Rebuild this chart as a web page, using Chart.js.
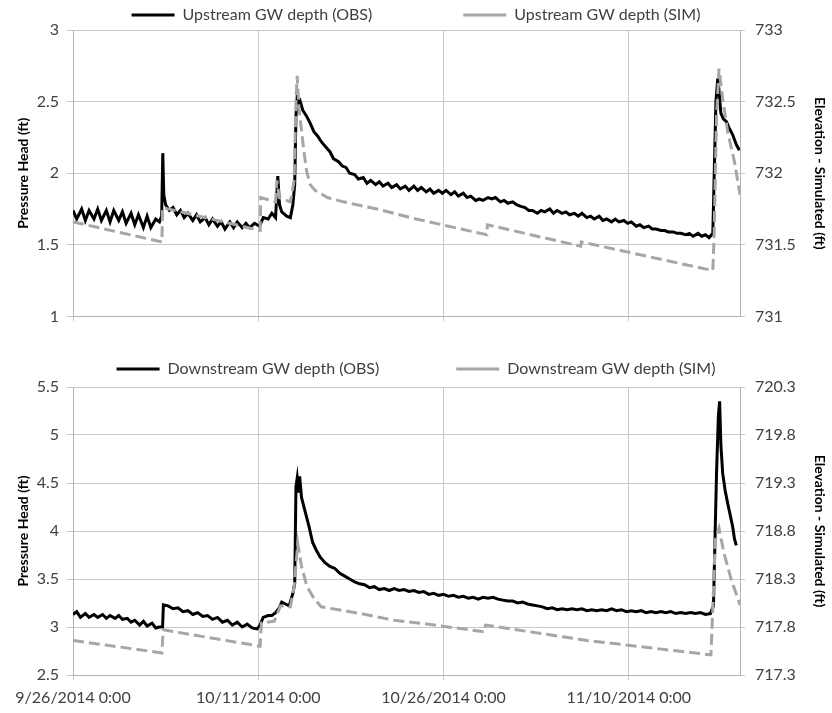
<!DOCTYPE html>
<html>
<head>
<meta charset="utf-8">
<title>GW depth</title>
<script src="https://cdn.jsdelivr.net/npm/chart.js@4.4.1/dist/chart.umd.min.js"></script>
<style>
  body { margin: 0; background: #fff; }
  canvas { display: block; }
</style>
</head>
<body>
<canvas id="upChart" width="832" height="336"></canvas>
<canvas id="downChart" width="832" height="377"></canvas>
<script>
// x values are days after 9/26/2014 0:00
const xTickDays = [0, 15, 30, 45];
const xTickLabels = ['9/26/2014 0:00', '10/11/2014 0:00', '10/26/2014 0:00', '11/10/2014 0:00'];

const upDepthTicks = [1, 1.5, 2, 2.5, 3];
const upElevTicks = [731, 731.5, 732, 732.5, 733];
const downDepthTicks = [2.5, 3, 3.5, 4, 4.5, 5, 5.5];
const downElevTicks = [717.3, 717.8, 718.3, 718.8, 719.3, 719.8, 720.3];

const upNames = ['Upstream GW depth (OBS)', 'Upstream GW depth (SIM)'];
const downNames = ['Downstream GW depth (OBS)', 'Downstream GW depth (SIM)'];

// observed pressure head (ft)
const upObs = [
  [0.0,1.74],[0.3,1.68],[0.7,1.75],[1.0,1.67],[1.3,1.74],[1.7,1.68],[2.0,1.75],[2.3,1.67],[2.7,1.74],[3.0,1.66],
  [3.3,1.74],[3.7,1.67],[4.0,1.73],[4.3,1.65],[4.7,1.72],[5.0,1.64],[5.3,1.71],[5.7,1.62],[6.0,1.70],[6.3,1.62],
  [6.7,1.68],[7.0,1.66],[7.18,1.70],[7.27,2.14],[7.35,1.85],[7.5,1.78],[7.8,1.74],[8.1,1.76],[8.4,1.71],[8.7,1.74],
  [9.0,1.69],[9.3,1.72],[9.7,1.67],[10.0,1.71],[10.3,1.66],[10.7,1.69],[11.0,1.64],[11.3,1.68],[11.7,1.63],[12.0,1.66],
  [12.3,1.61],[12.7,1.66],[13.0,1.62],[13.3,1.66],[13.7,1.62],[14.0,1.65],[14.3,1.62],[14.7,1.65],[15.1,1.63],[15.4,1.69],
  [15.8,1.68],[16.1,1.72],[16.4,1.69],[16.58,1.98],[16.72,1.78],[16.9,1.73],[17.3,1.70],[17.6,1.69],[17.8,1.78],[17.95,1.92],
  [18.05,2.40],[18.15,2.53],[18.25,2.47],[18.4,2.50],[18.6,2.44],[18.9,2.40],[19.2,2.35],[19.5,2.29],[19.8,2.26],[20.1,2.22],
  [20.5,2.18],[20.8,2.15],[21.1,2.10],[21.5,2.08],[21.8,2.05],[22.1,2.04],[22.4,2.00],[22.8,1.99],[23.1,1.96],[23.5,1.97],
  [23.8,1.93],[24.1,1.95],[24.5,1.92],[24.8,1.94],[25.1,1.91],[25.5,1.93],[25.8,1.90],[26.2,1.92],[26.5,1.89],[26.9,1.91],
  [27.2,1.88],[27.6,1.91],[27.9,1.88],[28.2,1.90],[28.6,1.87],[28.9,1.89],[29.2,1.86],[29.6,1.88],[29.9,1.86],[30.2,1.88],
  [30.6,1.85],[30.9,1.87],[31.2,1.84],[31.6,1.86],[31.9,1.83],[32.2,1.84],[32.6,1.81],[32.9,1.82],[33.2,1.81],[33.6,1.83],
  [33.9,1.82],[34.2,1.83],[34.6,1.80],[34.9,1.81],[35.2,1.79],[35.6,1.80],[35.9,1.78],[36.2,1.77],[36.6,1.76],[36.9,1.74],
  [37.2,1.74],[37.6,1.72],[37.9,1.74],[38.2,1.73],[38.6,1.75],[38.9,1.72],[39.2,1.74],[39.6,1.72],[39.9,1.73],[40.2,1.71],
  [40.6,1.72],[40.9,1.70],[41.2,1.72],[41.6,1.69],[41.9,1.70],[42.2,1.68],[42.6,1.70],[42.9,1.67],[43.2,1.68],[43.6,1.66],
  [43.9,1.68],[44.2,1.66],[44.6,1.67],[44.9,1.65],[45.2,1.66],[45.6,1.63],[45.9,1.64],[46.2,1.62],[46.6,1.63],[46.9,1.61],
  [47.2,1.61],[47.6,1.60],[47.9,1.60],[48.2,1.59],[48.6,1.59],[48.9,1.58],[49.2,1.58],[49.6,1.57],[49.9,1.58],[50.2,1.56],
  [50.6,1.58],[50.9,1.56],[51.2,1.57],[51.5,1.55],[51.8,1.58],[52.05,2.50],[52.2,2.66],[52.3,2.58],[52.45,2.42],[52.65,2.38],
  [52.9,2.36],[53.15,2.31],[53.4,2.27],[53.7,2.20],[53.95,2.16]
];

// simulated elevation (ft), right axis
const upSim = [
  [0.0,731.66],[7.2,731.52],[7.25,731.76],[15.15,731.60],[15.2,731.83],[16.4,731.80],[16.5,731.95],[16.7,731.83],
  [17.6,731.80],[17.9,731.95],[18.05,732.50],[18.15,732.68],[18.3,732.45],[18.6,732.22],[18.9,732.02],[19.2,731.92],
  [19.6,731.88],[20.6,731.83],[21.9,731.80],[24.6,731.75],[27.3,731.69],[33.5,731.57],[33.55,731.64],[41.1,731.49],
  [41.15,731.52],[51.8,731.32],[51.9,731.55],[52.1,732.40],[52.3,732.73],[52.6,732.52],[53.0,732.29],[53.55,732.08],
  [54.0,731.85]
];

const downObs = [
  [0.0,3.13],[0.3,3.16],[0.6,3.10],[1.0,3.14],[1.3,3.10],[1.7,3.13],[2.0,3.10],[2.4,3.13],[2.7,3.09],[3.0,3.12],
  [3.4,3.09],[3.7,3.12],[4.0,3.08],[4.4,3.09],[4.7,3.05],[5.0,3.07],[5.4,3.02],[5.7,3.06],[6.0,3.01],[6.4,3.04],
  [6.7,2.99],[7.0,3.00],[7.25,3.00],[7.32,3.23],[7.7,3.22],[8.1,3.19],[8.5,3.20],[8.9,3.16],[9.3,3.17],[9.7,3.13],
  [10.1,3.15],[10.5,3.11],[10.9,3.12],[11.3,3.08],[11.7,3.10],[12.1,3.05],[12.5,3.07],[12.9,3.02],[13.3,3.05],[13.7,3.00],
  [14.1,3.03],[14.5,2.99],[14.9,2.98],[15.1,3.01],[15.4,3.10],[15.8,3.12],[16.1,3.12],[16.4,3.15],[16.7,3.20],[16.9,3.26],
  [17.2,3.24],[17.5,3.22],[17.8,3.35],[17.95,3.45],[18.05,4.46],[18.15,4.55],[18.25,4.40],[18.35,4.57],[18.5,4.35],[18.8,4.20],
  [19.1,4.05],[19.4,3.88],[19.7,3.80],[20.0,3.73],[20.4,3.67],[20.8,3.63],[21.2,3.61],[21.6,3.56],[22.0,3.53],[22.4,3.50],
  [22.8,3.47],[23.2,3.45],[23.6,3.44],[24.0,3.41],[24.4,3.42],[24.8,3.39],[25.2,3.40],[25.6,3.38],[26.0,3.40],[26.4,3.38],
  [26.8,3.39],[27.2,3.37],[27.6,3.38],[28.0,3.36],[28.4,3.37],[28.8,3.34],[29.2,3.35],[29.6,3.33],[30.0,3.34],[30.4,3.32],
  [30.8,3.33],[31.2,3.31],[31.6,3.32],[32.0,3.30],[32.4,3.31],[32.8,3.29],[33.2,3.31],[33.6,3.30],[34.0,3.31],[34.4,3.29],
  [34.8,3.28],[35.2,3.27],[35.6,3.27],[36.0,3.25],[36.4,3.26],[36.8,3.24],[37.2,3.23],[37.6,3.22],[38.0,3.21],[38.4,3.19],
  [38.8,3.20],[39.2,3.18],[39.6,3.19],[40.0,3.18],[40.4,3.19],[40.8,3.18],[41.2,3.19],[41.6,3.17],[42.0,3.18],[42.4,3.17],
  [42.8,3.18],[43.2,3.17],[43.6,3.19],[44.0,3.17],[44.4,3.18],[44.8,3.16],[45.2,3.17],[45.6,3.16],[46.0,3.17],[46.4,3.15],
  [46.8,3.16],[47.2,3.15],[47.6,3.16],[48.0,3.15],[48.4,3.16],[48.8,3.14],[49.2,3.15],[49.6,3.14],[50.0,3.15],[50.4,3.14],
  [50.8,3.15],[51.2,3.13],[51.6,3.14],[51.85,3.22],[52.1,4.60],[52.25,5.20],[52.35,5.35],[52.45,4.90],[52.6,4.60],[52.8,4.42],
  [53.0,4.29],[53.2,4.17],[53.4,4.05],[53.55,3.92],[53.7,3.85]
];

const downSim = [
  [0.0,717.66],[7.2,717.53],[7.3,717.77],[15.15,717.60],[15.25,717.84],[16.3,717.86],[16.8,718.02],[17.6,718.01],
  [17.9,718.22],[18.2,718.67],[18.5,718.43],[18.95,718.22],[19.5,718.10],[20.1,718.01],[23.3,717.94],[26.0,717.87],
  [28.1,717.84],[33.3,717.75],[33.4,717.82],[41.6,717.66],[51.65,717.51],[51.8,718.01],[52.0,718.71],[52.3,718.83],
  [52.7,718.57],[53.3,718.29],[54.0,718.03]
];

Chart.defaults.font.family = "Lato, 'Open Sans', sans-serif";
const gridColor = '#c8c8c8';
const axisColor = '#b4b4b4';
const labelColor = '#404040';

const toPoints = arr => arr.map(p => ({x: p[0], y: p[1]}));
const tickText = v => String(+v.toFixed(1));

function drawChart(id, obs, sim, names, depthTicks, elevTicks, box) {
  const ctx = document.getElementById(id).getContext('2d');
  return new Chart(ctx, {
    type: 'line',
    data: {
      datasets: [{
        label: names[0],
        data: toPoints(obs),
        borderColor: '#000',
        borderWidth: 3,
        pointRadius: 0,
        tension: 0,
        yAxisID: 'y',
        order: 1
      }, {
        label: names[1],
        data: toPoints(sim),
        borderColor: '#a6a6a6',
        borderWidth: 3,
        borderDash: [11, 5],
        pointRadius: 0,
        tension: 0,
        yAxisID: 'y1',
        order: 0
      }]
    },
    options: {
      responsive: false,
      animation: false,
      devicePixelRatio: 1,
      layout: { padding: { top: box.top, left: 0, right: 0, bottom: 0 } },
      plugins: {
        tooltip: { enabled: false },
        legend: {
          position: 'top',
          maxHeight: box.legendHeight,
          labels: {
            usePointStyle: true,
            pointStyle: 'line',
            pointStyleWidth: 43,
            padding: box.gap,
            color: labelColor,
            font: { size: 16 },
            sort: (a, b) => a.datasetIndex - b.datasetIndex
          }
        }
      },
      scales: {
        x: {
          type: 'linear',
          min: 0,
          max: 54,
          afterBuildTicks: s => { s.ticks = xTickDays.map(v => ({value: v})); },
          afterFit: s => { s.height = box.xHeight; },
          grid: { color: gridColor, tickLength: 5 },
          border: { color: axisColor },
          ticks: {
            display: box.showDates,
            autoSkip: false,
            maxRotation: 0,
            padding: 8,
            color: labelColor,
            font: { size: 16 },
            callback: v => xTickLabels[xTickDays.indexOf(v)]
          }
        },
        y: {
          position: 'left',
          min: depthTicks[0],
          max: depthTicks[depthTicks.length - 1],
          afterBuildTicks: s => { s.ticks = depthTicks.map(v => ({value: v})); },
          afterFit: s => { s.width = 73; },
          grid: { color: gridColor, tickLength: 6 },
          border: { color: axisColor },
          ticks: { padding: 8, color: labelColor, font: { size: 16 }, callback: tickText },
          title: {
            display: true,
            text: 'Pressure Head (ft)',
            color: '#000',
            font: { size: 14, weight: 'bold' },
            padding: { top: 15, bottom: 0 }
          }
        },
        y1: {
          position: 'right',
          min: elevTicks[0],
          max: elevTicks[elevTicks.length - 1],
          afterBuildTicks: s => { s.ticks = elevTicks.map(v => ({value: v})); },
          afterFit: s => { s.width = 92; },
          grid: { drawOnChartArea: false, color: gridColor, tickLength: 5 },
          border: { color: axisColor },
          ticks: { padding: 10, color: labelColor, font: { size: 16 }, callback: tickText },
          title: {
            display: true,
            text: 'Elevation - Simulated (ft)',
            color: '#000',
            font: { size: 14, weight: 'bold' },
            padding: { top: 4, bottom: 0 }
          }
        }
      }
    }
  });
}

drawChart('upChart', upObs, upSim, upNames, upDepthTicks, upElevTicks,
  { top: -84, legendHeight: 114, gap: 91, xHeight: 15, showDates: false });
drawChart('downChart', downObs, downSim, downNames, downDepthTicks, downElevTicks,
  { top: -52, legendHeight: 103, gap: 77, xHeight: 38, showDates: true });
</script>
</body>
</html>
